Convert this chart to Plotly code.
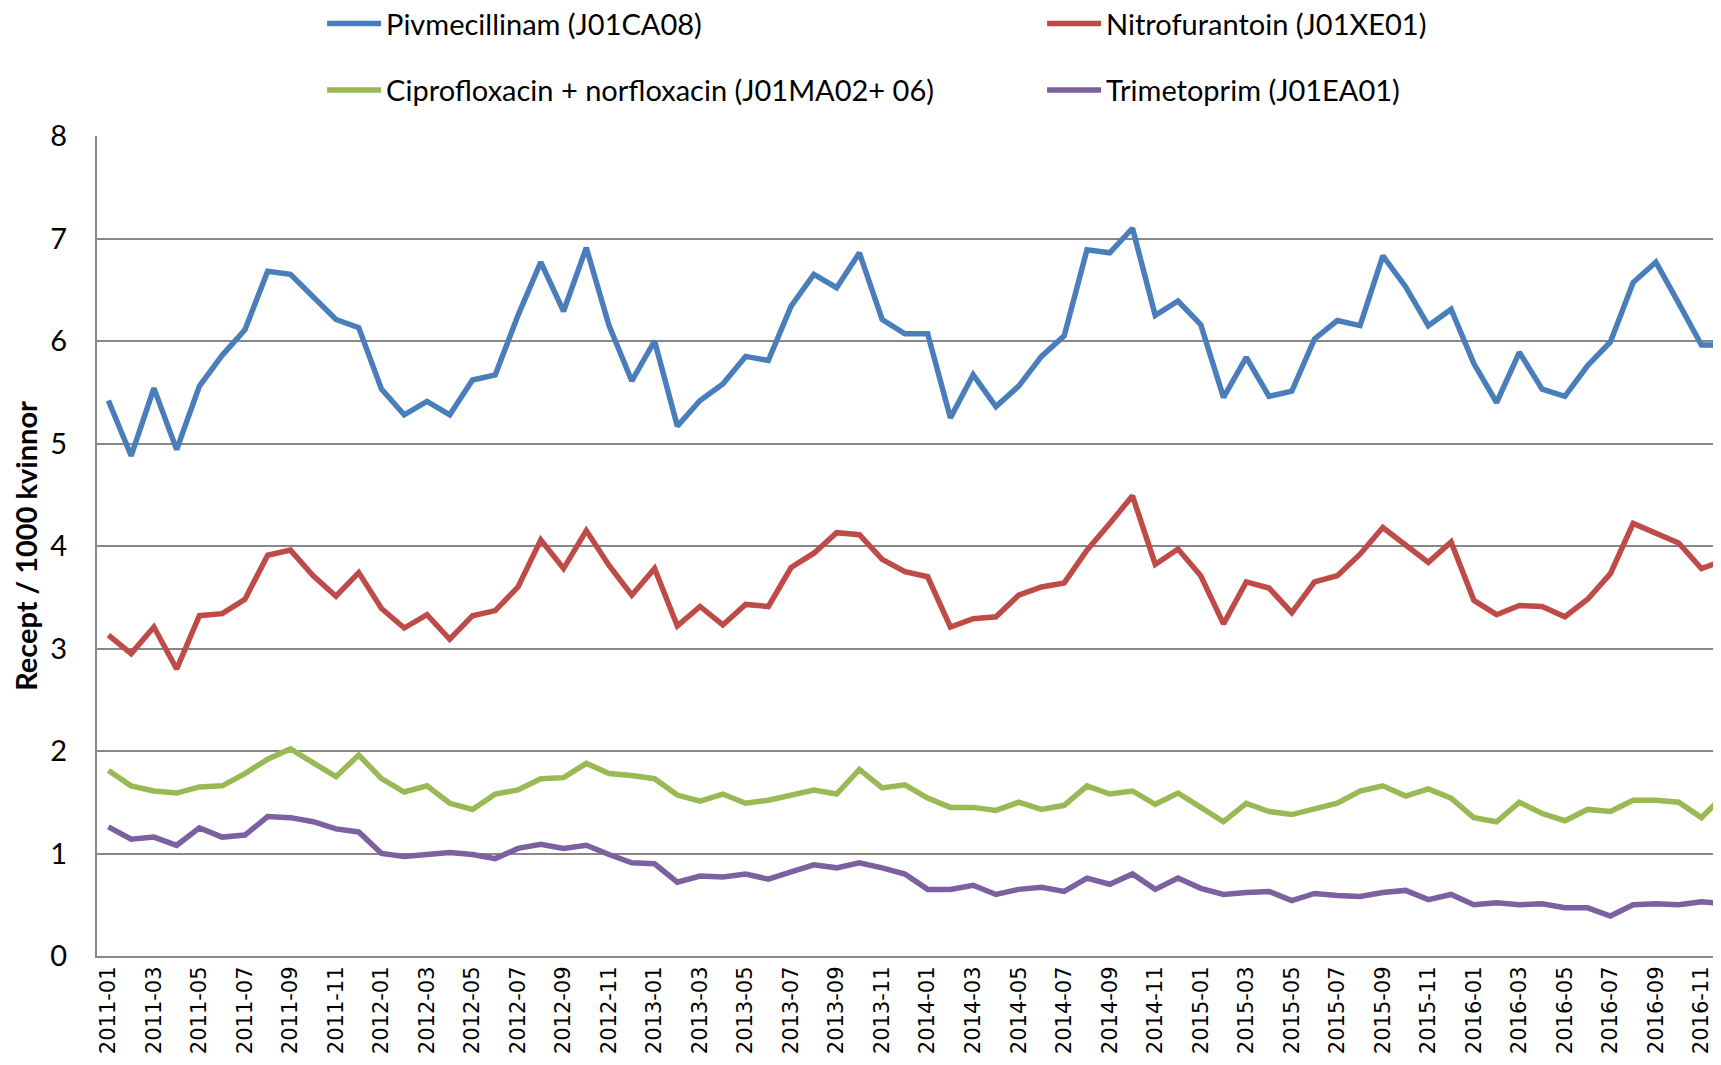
import plotly.graph_objects as go

months = [f"{y}-{m:02d}" for y in range(2011, 2017) for m in range(1, 13)]
tick_labels = months[::2]

pivmecillinam = [5.42, 4.88, 5.54, 4.94, 5.56, 5.86, 6.11, 6.68, 6.65, 6.43,
                 6.21, 6.13, 5.53, 5.28, 5.41, 5.28, 5.62, 5.67, 6.25, 6.77,
                 6.29, 6.91, 6.15, 5.61, 6.00, 5.17, 5.42, 5.58, 5.85, 5.81,
                 6.34, 6.65, 6.52, 6.86, 6.21, 6.07, 6.07, 5.25, 5.67, 5.36,
                 5.56, 5.85, 6.05, 6.89, 6.86, 7.10, 6.25, 6.39, 6.16, 5.45,
                 5.84, 5.46, 5.51, 6.02, 6.20, 6.15, 6.83, 6.53, 6.15, 6.31,
                 5.78, 5.40, 5.89, 5.53, 5.46, 5.76, 5.99, 6.57, 6.77, 6.37,
                 5.96, 5.96]
nitrofurantoin = [3.13, 2.95, 3.21, 2.80, 3.32, 3.34, 3.48, 3.91, 3.96, 3.71,
                  3.51, 3.74, 3.39, 3.20, 3.33, 3.09, 3.32, 3.37, 3.60, 4.06,
                  3.78, 4.15, 3.81, 3.52, 3.78, 3.22, 3.41, 3.23, 3.43, 3.41,
                  3.79, 3.93, 4.13, 4.11, 3.87, 3.75, 3.70, 3.21, 3.29, 3.31,
                  3.52, 3.60, 3.64, 3.96, 4.22, 4.49, 3.82, 3.97, 3.71, 3.24,
                  3.65, 3.59, 3.35, 3.65, 3.71, 3.92, 4.18, 4.01, 3.84, 4.04,
                  3.47, 3.33, 3.42, 3.41, 3.31, 3.48, 3.73, 4.22, 4.13, 4.03,
                  3.78, 3.86]
cipro_norflox = [1.81, 1.66, 1.61, 1.59, 1.65, 1.66, 1.78, 1.92, 2.02, 1.89,
                 1.75, 1.96, 1.73, 1.60, 1.66, 1.49, 1.43, 1.58, 1.62, 1.73,
                 1.74, 1.88, 1.78, 1.76, 1.73, 1.57, 1.51, 1.58, 1.49, 1.52,
                 1.57, 1.62, 1.58, 1.82, 1.64, 1.67, 1.54, 1.45, 1.45, 1.42,
                 1.50, 1.43, 1.47, 1.66, 1.58, 1.61, 1.48, 1.59, 1.45, 1.31,
                 1.49, 1.41, 1.38, 1.44, 1.49, 1.61, 1.66, 1.56, 1.63, 1.54,
                 1.35, 1.31, 1.50, 1.39, 1.32, 1.43, 1.41, 1.52, 1.52, 1.50,
                 1.35, 1.57]
trimetoprim = [1.26, 1.14, 1.16, 1.08, 1.25, 1.16, 1.18, 1.36, 1.35, 1.31,
               1.24, 1.21, 1.00, 0.97, 0.99, 1.01, 0.99, 0.95, 1.05, 1.09,
               1.05, 1.08, 0.99, 0.91, 0.90, 0.72, 0.78, 0.77, 0.80, 0.75,
               0.82, 0.89, 0.86, 0.91, 0.86, 0.80, 0.65, 0.65, 0.69, 0.60,
               0.65, 0.67, 0.63, 0.76, 0.70, 0.80, 0.65, 0.76, 0.66, 0.60,
               0.62, 0.63, 0.54, 0.61, 0.59, 0.58, 0.62, 0.64, 0.55, 0.60,
               0.50, 0.52, 0.50, 0.51, 0.47, 0.47, 0.39, 0.50, 0.51, 0.50,
               0.53, 0.51]

series = [
    ("Pivmecillinam (J01CA08)", pivmecillinam, "#4A7EBB", "legend"),
    ("Nitrofurantoin (J01XE01)", nitrofurantoin, "#BE4B48", "legend"),
    ("Ciprofloxacin + norfloxacin (J01MA02+ 06)", cipro_norflox, "#98B954", "legend2"),
    ("Trimetoprim (J01EA01)", trimetoprim, "#7D60A0", "legend2"),
]

fig = go.Figure()
for name, vals, color, leg in series:
    fig.add_trace(go.Scatter(x=months, y=vals, name=name, mode="lines",
                             line=dict(color=color, width=5.5), legend=leg))

legend_font = dict(family="Lato", size=29, color="black")
common_legend = dict(orientation="h", xanchor="left", yanchor="middle",
                     font=legend_font, entrywidth=651, entrywidthmode="pixels",
                     itemwidth=54, bgcolor="rgba(0,0,0,0)", borderwidth=0,
                     traceorder="normal")

# the page body adds an 8px offset; the figure is sized to fill the window
fig.update_layout(
    width=1713, height=1057,
    margin=dict(l=89, r=0, t=128, b=109, autoexpand=False),
    paper_bgcolor="white", plot_bgcolor="white",
    showlegend=True,
    legend=dict(x=0.1386, y=1.137, **common_legend),
    legend2=dict(x=0.1386, y=1.056, **common_legend),
    xaxis=dict(
        type="category", categoryorder="array", categoryarray=months,
        range=[-0.5, 70.86],
        tickmode="array", tickvals=tick_labels, ticktext=tick_labels,
        tickangle=-90, tickfont=dict(family="DejaVu Sans", size=21, color="black"),
        showgrid=False, showline=True, linecolor="#878787", linewidth=2,
        ticks="", zeroline=False, automargin=False,
    ),
    yaxis=dict(
        range=[0, 8], dtick=1, tick0=0,
        tickfont=dict(family="Lato", size=29, color="black"),
        showgrid=True, gridcolor="#878787", gridwidth=2,
        showline=True, linecolor="#878787", linewidth=2,
        ticks="", ticklabelstandoff=22, zeroline=False, automargin=False,
        title=dict(text="<b>Recept / 1000 kvinnor</b>",
                   font=dict(family="Lato", size=29, color="black"),
                   standoff=16),
    ),
)

fig.write_html("out.html")
